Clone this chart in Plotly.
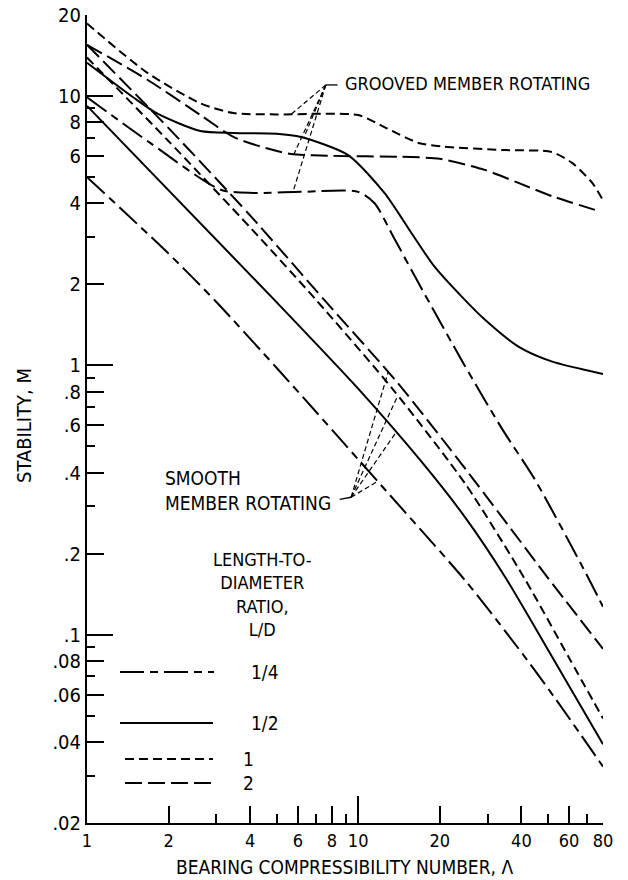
import numpy as np
import plotly.graph_objects as go

# ---------------- data ----------------
# Grooved member rotating
g_q_x = [1, 1.71, 3.11, 4.12, 6.15, 10, 11.5, 13.5, 16.8, 24.7, 34, 45, 69, 80]
g_q_y = [9.9, 6.7, 4.49, 4.37, 4.41, 4.41, 4.0, 3.0, 2.0, 1.0, 0.58, 0.375, 0.17, 0.127]

g_h_x = [1, 1.48, 1.82, 2.62, 3.47, 5, 6.15, 9.18, 12.5, 15.7, 19.1, 24.1, 29.3, 39, 51.7, 80]
g_h_y = [13.3, 9.9, 8.6, 7.42, 7.3, 7.25, 7.05, 6.04, 4.37, 3.11, 2.33, 1.80, 1.48, 1.175, 1.035, 0.93]

g_1_x = [1, 1.67, 2.62, 3.47, 5, 10, 12.5, 16.7, 20.3, 35, 51.8, 61.5, 73, 80]
g_1_y = [18.6, 12.2, 9.4, 8.65, 8.55, 8.5, 7.67, 6.7, 6.5, 6.3, 6.2, 5.65, 4.76, 4.1]

g_2_x = [1, 1.67, 2.62, 3.47, 4.6, 5.65, 8, 14.4, 20, 29.3, 39, 51.9, 74.7]
g_2_y = [15.5, 11.5, 8.5, 7.05, 6.4, 6.1, 6.0, 5.95, 5.85, 5.32, 4.76, 4.25, 3.78]

# Smooth member rotating
s_q_x = [1, 2, 3, 5, 7.11, 11.86, 24.7, 39.1, 53, 80]
s_q_y = [5.0, 2.6, 1.72, 0.98, 0.66, 0.369, 0.16, 0.0887, 0.0585, 0.0324]

s_h_x = [1, 4.9, 10, 17.1, 25, 34.7, 53.2, 80]
s_h_y = [9.2, 1.755, 0.82, 0.44, 0.27, 0.165, 0.0794, 0.0392]

s_1_x = [1, 2, 4, 7, 13.5, 25, 41.2, 60, 80]
s_1_y = [13.9, 6.8, 3.25, 1.75, 0.81, 0.36, 0.161, 0.082, 0.0489]

s_2_x = [1, 2, 4, 7.5, 14, 25, 50.5, 80]
s_2_y = [15.5, 7.6, 3.6, 1.75, 0.86, 0.41, 0.161, 0.0887]

ld_labels = ["1/4", "1/2", "1", "2"]

x_tickvals = [1, 2, 4, 6, 8, 10, 20, 40, 60, 80]
x_ticktext = ["1", "2", "4", "6", "8", "10", "20", "40", "60", "80"]
x_minor = [3, 5, 7, 9, 30, 50, 70]
y_tickvals = [0.02, 0.04, 0.06, 0.08, 0.1, 0.2, 0.4, 0.6, 0.8, 1, 2, 4, 6, 8, 10, 20]
y_ticktext = [".02", ".04", ".06", ".08", ".1", ".2", ".4", ".6", ".8", "1",
              "2", "4", "6", "8", "10", "20"]
y_minor = [0.03, 0.05, 0.07, 0.09, 0.3, 0.5, 0.7, 0.9, 3, 5, 7, 9]

# ---------------- styling ----------------
FONT = "Liberation Sans Narrow, Arial Narrow, DejaVu Sans Condensed, sans-serif"
DASH = {
    "1/4": "24px,6px,8px,6px",
    "1/2": "solid",
    "1": "9px,5px",
    "2": "17px,6px",
}
W, H = 628, 880
L, R, T, B = 87, 25, 15, 57
PW, PH = W - L - R, H - T - B


def px(xp):
    return (xp - L) / PW


def py(yp):
    return (H - B - yp) / PH


fig = go.Figure()
curves = [
    (g_q_x, g_q_y, "1/4"), (g_h_x, g_h_y, "1/2"), (g_1_x, g_1_y, "1"), (g_2_x, g_2_y, "2"),
    (s_q_x, s_q_y, "1/4"), (s_h_x, s_h_y, "1/2"), (s_1_x, s_1_y, "1"), (s_2_x, s_2_y, "2"),
]
for xs, ys, ld in curves:
    fig.add_trace(go.Scatter(
        x=xs, y=ys, mode="lines",
        line=dict(color="black", width=2, dash=DASH[ld], shape="spline", smoothing=0.7),
        showlegend=False, hoverinfo="skip"))

# helper trace for the overlay axes (long decade ticks)
fig.add_trace(go.Scatter(x=[None], y=[None], xaxis="x2", yaxis="y2",
                         showlegend=False, hoverinfo="skip"))


def on_curve(xs, ys, xq):
    lx, ly = np.log10(xs), np.log10(ys)
    return float(10 ** np.interp(np.log10(xq), lx, ly))


shapes = []
# leader lines: grooved member rotating
g_apex = (7.6, 11.0)
for xs, ys, xq in [(g_1_x, g_1_y, 5.65), (g_h_x, g_h_y, 6.3),
                   (g_2_x, g_2_y, 5.8), (g_q_x, g_q_y, 5.75)]:
    shapes.append(dict(type="line", xref="x", yref="y", x0=g_apex[0], y0=g_apex[1],
                       x1=xq, y1=on_curve(xs, ys, xq),
                       line=dict(color="black", width=1.2, dash="5px,3px")))
shapes.append(dict(type="line", xref="x", yref="y", x0=g_apex[0], y0=g_apex[1],
                   x1=8.4, y1=g_apex[1], line=dict(color="black", width=1.3)))
# leader lines: smooth member rotating
s_apex = (9.42, 0.324)
for xs, ys, xq in [(s_2_x, s_2_y, 12.9), (s_1_x, s_1_y, 14.0),
                   (s_h_x, s_h_y, 13.8), (s_q_x, s_q_y, 11.8)]:
    shapes.append(dict(type="line", xref="x", yref="y", x0=s_apex[0], y0=s_apex[1],
                       x1=xq, y1=on_curve(xs, ys, xq),
                       line=dict(color="black", width=1.2, dash="5px,3px")))
shapes.append(dict(type="line", xref="x", yref="y", x0=s_apex[0], y0=s_apex[1],
                   x1=8.55, y1=0.318, line=dict(color="black", width=1.3)))

# legend keys
legend_rows = [(672, 120, 214), (723, 120, 213), (759, 125, 213), (783, 125, 215)]
label_pos = [(265, 672), (265, 723), (248, 759), (248, 783)]
annotations = []
for (yk, x0k, x1k), lab, (lx, ly) in zip(legend_rows, ld_labels, label_pos):
    shapes.append(dict(type="line", xref="paper", yref="paper",
                       x0=px(x0k), x1=px(x1k), y0=py(yk), y1=py(yk),
                       line=dict(color="black", width=2, dash=DASH[lab])))
    annotations.append(dict(x=px(lx), y=py(ly), xref="paper", yref="paper",
                            text=lab, showarrow=False, xanchor="center", yanchor="middle",
                            font=dict(size=19)))

annotations += [
    dict(x=px(343), y=py(84), xref="paper", yref="paper", text="GROOVED MEMBER ROTATING",
         showarrow=False, xanchor="left", yanchor="middle", font=dict(size=18)),
    dict(x=px(163), y=py(490), xref="paper", yref="paper",
         text="SMOOTH<br>MEMBER ROTATING", align="left",
         showarrow=False, xanchor="left", yanchor="middle", font=dict(size=19)),
    dict(x=px(262), y=py(594), xref="paper", yref="paper",
         text="LENGTH-TO-<br>DIAMETER<br>RATIO,<br>L/D", align="center",
         showarrow=False, xanchor="center", yanchor="middle", font=dict(size=18)),
    dict(x=px(344), y=py(867), xref="paper", yref="paper",
         text="BEARING COMPRESSIBILITY NUMBER, \u039b",
         showarrow=False, xanchor="center", yanchor="middle", font=dict(size=19)),
    dict(x=px(24), y=py(426), xref="paper", yref="paper", text="STABILITY, M",
         textangle=-90, showarrow=False, xanchor="center", yanchor="middle",
         font=dict(size=20)),
]

xr = [0, np.log10(80)]
yr = [np.log10(0.02), np.log10(20)]
fig.update_layout(
    width=W, height=H, margin=dict(l=L, r=R, t=T, b=B, pad=0, autoexpand=False),
    paper_bgcolor="white", plot_bgcolor="white",
    font=dict(family=FONT, color="black", size=18),
    showlegend=False,
    xaxis=dict(type="log", range=xr, showgrid=False, zeroline=False, automargin=False,
               showline=True, linecolor="black", linewidth=2,
               ticks="inside", ticklen=17, tickwidth=1.5, tickcolor="black",
               tickmode="array", tickvals=x_tickvals, ticktext=x_ticktext,
               tickfont=dict(size=18),
               minor=dict(tickvals=x_minor, ticks="inside", ticklen=9,
                          tickwidth=1.5, tickcolor="black", showgrid=False)),
    yaxis=dict(type="log", range=yr, showgrid=False, zeroline=False, automargin=False,
               showline=True, linecolor="black", linewidth=2,
               ticks="inside", ticklen=17, tickwidth=1.5, tickcolor="black",
               tickmode="array", tickvals=y_tickvals, ticktext=y_ticktext,
               tickfont=dict(size=20),
               minor=dict(tickvals=y_minor, ticks="inside", ticklen=8,
                          tickwidth=1.5, tickcolor="black", showgrid=False)),
    xaxis2=dict(type="log", range=xr, overlaying="x", showgrid=False, zeroline=False,
                automargin=False,
                showline=False, ticks="inside", ticklen=27, tickwidth=1.5,
                tickcolor="black", tickmode="array", tickvals=[10],
                showticklabels=False),
    yaxis2=dict(type="log", range=yr, overlaying="y", side="left", showgrid=False,
                automargin=False,
                zeroline=False, showline=False, ticks="inside", ticklen=26,
                tickwidth=1.5, tickcolor="black", tickmode="array",
                tickvals=[0.1, 1, 10], showticklabels=False),
    shapes=shapes,
    annotations=annotations,
)

fig.write_html("out.html")
